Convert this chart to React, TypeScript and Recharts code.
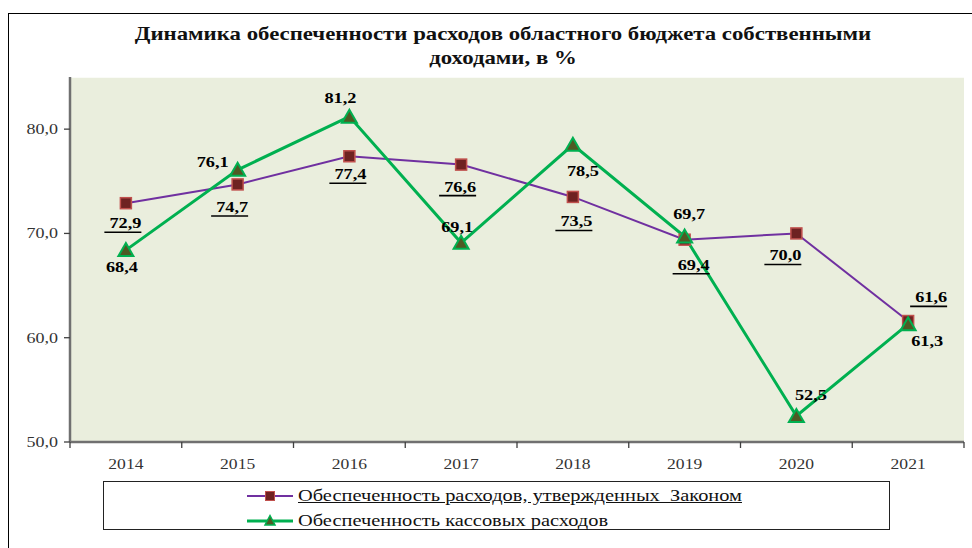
import React from 'react';
import { LineChart, Line, XAxis, YAxis, CartesianGrid, LabelList, Legend } from 'recharts';

const years = ['2014', '2015', '2016', '2017', '2018', '2019', '2020', '2021'];
const approvedCoverage = [72.9, 74.7, 77.4, 76.6, 73.5, 69.4, 70.0, 61.6];
const cashCoverage = [68.4, 76.1, 81.2, 69.1, 78.5, 69.7, 52.5, 61.3];
const yTicks = [50, 60, 70, 80];
const seriesNames = ['Обеспеченность расходов, утвержденных  Законом', 'Обеспеченность кассовых расходов'];
const titleLines = ['Динамика обеспеченности расходов областного бюджета собственными', 'доходами, в %'];

// label placement offsets relative to each point (dx, baseline dy)
const approvedLabelOffsets = [[-0.5, 25], [-5.5, 27.6], [1, 23], [-1, 27], [3.5, 29.5], [9, 30], [-11, 27], [23, -18.7]];
const cashLabelOffsets = [[-4, 22], [-25, -3], [-9, -14], [-4, -11], [10, 31], [4.5, -18], [14.5, -16], [19, 21.5]];

const data = years.map((year, i) => ({ year, approved: approvedCoverage[i], cash: cashCoverage[i] }));

const SERIF = "'Liberation Serif', Tinos, 'DejaVu Serif', 'Noto Serif', serif";
const fmt = (v: number) => v.toFixed(1).replace('.', ',');

const makeLabel = (offsets: number[][], values: number[], underline: boolean) => (props: any) => {
  const x = props.x ?? props.viewBox?.x;
  const y = props.y ?? props.viewBox?.y;
  const value = Number(props.value);
  const index = props.index ?? values.indexOf(value);
  const [dx, dy] = offsets[index] || [0, 0];
  const cx = x + dx;
  const by = y + dy;
  return (
    <g key={`lbl-${underline ? 'a' : 'c'}-${index}`}>
      <text
        transform={`translate(${cx},${by}) scale(1.22,1)`}
        textAnchor="middle"
        fontFamily={SERIF}
        fontWeight="bold"
        fontSize={15}
        fill="#000"
      >
        {fmt(value)}
      </text>
      {underline && <line x1={cx - 21} x2={cx + 16} y1={by + 4} y2={by + 4} stroke="#000" strokeWidth={1.6} />}
    </g>
  );
};

const SquareDot = (props: any) => {
  const { cx, cy, index } = props;
  if (cx == null || cy == null) return <g key={`sq-${index}`} />;
  return <rect key={`sq-${index}`} x={cx - 5.5} y={cy - 5.5} width={11} height={11} fill="#6e2222" stroke="#c0504d" strokeWidth={1.5} />;
};

const TriDot = (props: any) => {
  const { cx, cy, index } = props;
  if (cx == null || cy == null) return <g key={`tr-${index}`} />;
  return (
    <path
      key={`tr-${index}`}
      d={`M${cx},${cy - 7} L${cx + 7.5},${cy + 6} L${cx - 7.5},${cy + 6} Z`}
      fill="#4f5a24"
      stroke="#00b050"
      strokeWidth={2}
      strokeLinejoin="miter"
    />
  );
};

const BAND = (964 - 70) / years.length;

const XTick = (props: any) => {
  const { x, y, payload, index } = props;
  const last = index === years.length - 1;
  return (
    <g>
      <line x1={x - BAND / 2} x2={x - BAND / 2} y1={y - 8} y2={y - 2} stroke="#404040" strokeWidth={1.3} />
      {last && <line x1={x + BAND / 2} x2={x + BAND / 2} y1={y - 8} y2={y - 2} stroke="#404040" strokeWidth={1.3} />}
      <text transform={`translate(${x},${y + 19}) scale(1.17,1)`} textAnchor="middle" fontFamily={SERIF} fontSize={15} fill="#333">
        {payload.value}
      </text>
    </g>
  );
};

const YTick = (props: any) => {
  const { x, y, payload } = props;
  return (
    <text transform={`translate(${x},${y + 5}) scale(1.2,1)`} textAnchor="end" fontFamily={SERIF} fontSize={15} fill="#333">
      {fmt(Number(payload.value))}
    </text>
  );
};

const LegendBox = () => {
  const rows = [
    { name: seriesNames[0], color: '#7030a0', width: 2, marker: 'square', underline: true },
    { name: seriesNames[1], color: '#00b050', width: 3, marker: 'tri', underline: false },
  ];
  return (
    <div
      style={{
        width: 785,
        height: 47,
        border: '1.5px solid #222',
        background: '#fff',
        position: 'relative',
        fontFamily: SERIF,
      }}
    >
      {rows.map((r, i) => (
        <div key={i} style={{ position: 'absolute', left: 142, top: 3 + i * 25, height: 22, display: 'flex', alignItems: 'center' }}>
          <svg width={48} height={16} style={{ display: 'block' }}>
            <line x1={1} x2={47} y1={8} y2={8} stroke={r.color} strokeWidth={r.width} />
            {r.marker === 'square' ? (
              <rect x={19.5} y={3.5} width={9} height={9} fill="#6e2222" stroke="#c0504d" strokeWidth={1} />
            ) : (
              <path d="M24,2.5 L29,12 L19,12 Z" fill="#4f5a24" stroke="#00b050" strokeWidth={1.5} />
            )}
          </svg>
          <span
            style={{
              display: 'inline-block',
              marginLeft: 4,
              fontSize: 17,
              color: '#111',
              whiteSpace: 'pre',
              textDecoration: r.underline ? 'underline' : 'none',
              transform: 'scaleX(1.2)',
              transformOrigin: 'left center',
            }}
          >
            {r.name}
          </span>
        </div>
      ))}
    </div>
  );
};

export default function App() {
  return (
    <div style={{ position: 'absolute', left: 0, top: 0, width: 972, height: 548, background: '#fff', overflow: 'hidden' }}>
      <div style={{ position: 'absolute', left: 8, top: 13, width: 1000, height: 600, borderLeft: '1.5px solid #000', borderTop: '1.5px solid #000' }} />
      <div style={{ position: 'absolute', left: 0, top: 22, width: 1006, textAlign: 'center', fontFamily: SERIF, fontWeight: 'bold', fontSize: 19, lineHeight: '24px', color: '#111' }}>
        {titleLines.map((t, i) => (
          <div key={i} style={{ transform: 'scaleX(1.2)' }}>{t}</div>
        ))}
      </div>
      <div style={{ position: 'absolute', left: 0, top: 0 }}>
        <LineChart width={972} height={548} data={data} margin={{ top: 77, right: 8, bottom: 26, left: 10 }}>
          <CartesianGrid horizontal vertical={false} stroke="#ffffff" strokeWidth={1.5} fill="#eaeedd" />
          <XAxis
            dataKey="year"
            xAxisId="main"
            height={30}
            padding={{ left: BAND / 2, right: BAND / 2 }}
            axisLine={{ stroke: '#707070', strokeWidth: 2.5 }}
            tickLine={false}
            tick={<XTick />}
            interval={0}
          />
          <XAxis xAxisId="top" orientation="top" dataKey="year" height={0} tick={false} tickLine={false} axisLine={{ stroke: '#8c8c8c', strokeWidth: 2 }} />
          <YAxis
            yAxisId="main"
            width={60}
            domain={[50, 85]}
            ticks={yTicks}
            axisLine={{ stroke: '#707070', strokeWidth: 2.5 }}
            tickLine={{ stroke: '#404040', strokeWidth: 1.3 }}
            tickSize={6}
            tickMargin={6}
            tick={<YTick />}
            allowDataOverflow
          />
          <YAxis yAxisId="right" orientation="right" width={0} domain={[50, 85]} tick={false} tickLine={false} axisLine={{ stroke: '#8c8c8c', strokeWidth: 2 }} />
          <Line
            xAxisId="main"
            yAxisId="main"
            dataKey="approved"
            name={seriesNames[0]}
            stroke="#7030a0"
            strokeWidth={2}
            dot={SquareDot}
            activeDot={false}
            isAnimationActive={false}
          >
            <LabelList dataKey="approved" content={makeLabel(approvedLabelOffsets, approvedCoverage, true)} />
          </Line>
          <Line
            xAxisId="main"
            yAxisId="main"
            dataKey="cash"
            name={seriesNames[1]}
            stroke="#00b050"
            strokeWidth={3}
            dot={TriDot}
            activeDot={false}
            isAnimationActive={false}
          >
            <LabelList dataKey="cash" content={makeLabel(cashLabelOffsets, cashCoverage, false)} />
          </Line>
          <Legend
            content={<LegendBox />}
            wrapperStyle={{ position: 'absolute', left: 103, top: 481, width: 788, height: 50, bottom: 'auto' }}
          />
        </LineChart>
      </div>
    </div>
  );
}
